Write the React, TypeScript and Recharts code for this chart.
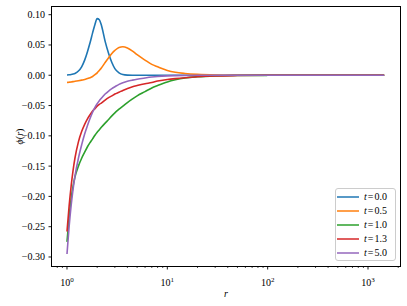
import { Legend, Line, LineChart, XAxis, YAxis } from 'recharts'

const radii = [
	1, 1.05, 1.1, 1.15, 1.2, 1.3, 1.4, 1.5, 1.6, 1.7, 1.8, 1.9, 2.0, 2.1, 2.2, 2.4, 2.6, 2.8, 3.0, 3.3,
	3.6, 4, 4.5, 5, 6, 7, 8, 10, 12, 15, 20, 30, 50, 100, 200, 500, 1000, 1450,
]

const phiT00 = [
	0.0005, 0.0008, 0.0013, 0.002, 0.003, 0.007, 0.014, 0.025, 0.039, 0.054, 0.07, 0.084, 0.0935, 0.0915,
	0.083, 0.056, 0.036, 0.021, 0.011, 0.004, 0.0012, 0.0002, 0, 0, 0, 0, 0, 0, 0, 0, 0, 0, 0, 0, 0, 0, 0, 0,
]
const phiT05 = [
	-0.012, -0.0115, -0.011, -0.0105, -0.01, -0.009, -0.008, -0.007, -0.0055, -0.004, -0.002, 0.001, 0.004,
	0.008, 0.012, 0.021, 0.029, 0.036, 0.041, 0.046, 0.047, 0.045, 0.04, 0.034, 0.025, 0.018, 0.014, 0.008,
	0.005, 0.003, 0.0015, 0.0005, 0.0001, 0, 0, 0, 0, 0,
]
const phiT10 = [
	-0.275, -0.235, -0.204, -0.183, -0.168, -0.15, -0.137, -0.127, -0.118, -0.111, -0.105, -0.099, -0.094,
	-0.09, -0.086, -0.079, -0.073, -0.067, -0.062, -0.056, -0.051, -0.045, -0.039, -0.034, -0.027, -0.021,
	-0.017, -0.011, -0.0075, -0.0045, -0.0025, -0.001, -0.0003, -0.0001, 0, 0, 0, 0,
]
const phiT13 = [
	-0.258, -0.216, -0.183, -0.157, -0.137, -0.11, -0.093, -0.081, -0.072, -0.065, -0.059, -0.055, -0.051,
	-0.048, -0.046, -0.041, -0.037, -0.034, -0.031, -0.028, -0.025, -0.022, -0.019, -0.017, -0.014, -0.012,
	-0.0095, -0.007, -0.0055, -0.004, -0.0025, -0.0012, -0.0005, -0.0001, 0, 0, 0, 0,
]
const phiT50 = [
	-0.295, -0.25, -0.215, -0.188, -0.167, -0.137, -0.115, -0.097, -0.083, -0.071, -0.061, -0.053, -0.047,
	-0.042, -0.038, -0.031, -0.026, -0.022, -0.019, -0.015, -0.0125, -0.01, -0.008, -0.0065, -0.0045, -0.003,
	-0.002, -0.001, -0.0006, -0.0003, -0.0001, 0, 0, 0, 0, 0, 0, 0,
]

const series = [
	{ key: 't00', label: '0.0', color: '#1f77b4', values: phiT00 },
	{ key: 't05', label: '0.5', color: '#ff7f0e', values: phiT05 },
	{ key: 't10', label: '1.0', color: '#2ca02c', values: phiT10 },
	{ key: 't13', label: '1.3', color: '#d62728', values: phiT13 },
	{ key: 't50', label: '5.0', color: '#9467bd', values: phiT50 },
]

const yTicks = [0.1, 0.05, 0, -0.05, -0.1, -0.15, -0.2, -0.25, -0.3]
const xMajorTicks = [1, 10, 100, 1000]
const xMinorTicks = [0.8, 0.9, 2, 3, 4, 5, 6, 7, 8, 9, 20, 30, 40, 50, 60, 70, 80, 90, 200, 300, 400, 500, 600, 700, 800, 900, 2000]

const data = radii.map((r, i) => {
	const row: Record<string, number> = { r }
	series.forEach((s) => (row[s.key] = s.values[i]))
	return row
})

const FONT = "'Liberation Serif', 'DejaVu Serif', serif"

function XTick(props: any) {
	const { x, y, payload } = props
	const v = payload.value
	const major = xMajorTicks.includes(v)
	return (
		<g>
			<line x1={x} x2={x} y1={y} y2={y + (major ? 3.5 : 2)} stroke="#000" strokeWidth={major ? 0.9 : 0.7} />
			{major && (
				<text x={x} y={y + 20} textAnchor="middle" fontSize={10} fontFamily={FONT} fill="#000">
					10
					<tspan dy={-4} fontSize={7}>
						{Math.round(Math.log10(v))}
					</tspan>
				</text>
			)}
		</g>
	)
}

function YTick(props: any) {
	const { x, y, payload } = props
	const label = payload.value.toFixed(2).replace('-', '\u2212')
	return (
		<g>
			<line x1={x - 3.5} x2={x} y1={y} y2={y} stroke="#000" strokeWidth={0.9} />
			<text x={x - 7} y={y + 3.5} textAnchor="end" fontSize={10} fontFamily={FONT} fill="#000">
				{label}
			</text>
		</g>
	)
}

function LegendBox(props: any) {
	const items = props.payload || []
	return (
		<div
			style={{
				border: '1px solid #cccccc',
				borderRadius: 3,
				background: 'rgba(255,255,255,0.8)',
				padding: '1px 0 1px 1px',
				fontFamily: FONT,
				fontSize: 10,
				color: '#000',
				boxSizing: 'border-box',
				width: 61,
				height: 73,
			}}
		>
			{items.map((it: any) => (
				<div key={it.value} style={{ display: 'flex', alignItems: 'center', height: 14, lineHeight: '14px' }}>
					<svg width={22} height={14} style={{ marginRight: 5, display: 'block' }}>
						<line x1={0} x2={22} y1={7} y2={7} stroke={it.color} strokeWidth={1.5} />
					</svg>
					<span style={{ whiteSpace: 'nowrap' }}>
						<i>t</i>
						<span style={{ margin: '0 1px' }}>=</span>
						{it.value}
					</span>
				</div>
			))}
		</div>
	)
}

export default function App() {
	return (
		<div style={{ position: 'absolute', left: 0, top: 0, width: 407, height: 306, background: '#fff' }}>
			<LineChart width={407} height={306} data={data} margin={{ top: 7, right: 7, bottom: 0, left: 0 }}>
				<XAxis
					dataKey="r"
					type="number"
					scale="log"
					domain={[0.709, 2084]}
					allowDataOverflow
					ticks={[...xMajorTicks, ...xMinorTicks].sort((a, b) => a - b)}
					interval={0}
					tick={<XTick />}
					tickLine={false}
					axisLine={false}
					tickSize={0}
					tickMargin={0}
					height={40}
					label={{ value: 'r', position: 'insideBottom', offset: 9, fontStyle: 'italic', fontSize: 10, fontFamily: FONT, fill: '#000' }}
				/>
				<YAxis
					type="number"
					domain={[-0.3149, 0.1127]}
					allowDataOverflow
					ticks={yTicks}
					interval={0}
					tick={<YTick />}
					tickLine={false}
					axisLine={false}
					tickSize={0}
					tickMargin={0}
					width={52}
					label={(p: any) => {
						const vb = p.viewBox || { y: 7, height: 259 }
						const cy = vb.y + vb.height / 2
						return (
							<text x={23} y={cy} transform={`rotate(-90 23 ${cy})`} textAnchor="middle" fontSize={10} fontFamily={FONT} fill="#000">
								<tspan fontStyle="italic">ϕ</tspan>(<tspan fontStyle="italic">r</tspan>)
							</text>
						)
					}}
				/>
				{series.map((s) => (
					<Line
						key={s.key}
						dataKey={s.key}
						name={s.label}
						stroke={s.color}
						strokeWidth={1.6}
						dot={false}
						type="monotone"
						isAnimationActive={false}
					/>
				))}
				<Legend
					layout="vertical"
					align="center"
					verticalAlign="middle"
					content={<LegendBox />}
					wrapperStyle={{ left: 335, top: 188, width: 61 }}
				/>
			</LineChart>
			<div
				style={{
					position: 'absolute',
					left: 51,
					top: 6,
					width: 350,
					height: 261,
					border: '1px solid #000',
					boxSizing: 'border-box',
					pointerEvents: 'none',
				}}
			/>
		</div>
	)
}
